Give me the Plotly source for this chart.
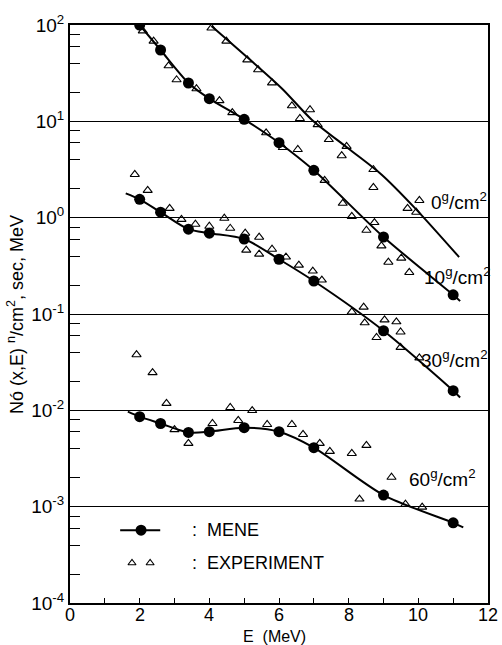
import plotly.graph_objects as go

# ---------------- data ----------------
E_mene = [2, 2.6, 3.4, 4, 5, 6, 7, 9, 11]
mene_10 = [100, 55, 25, 17.2, 10.5, 6.0, 3.1, 0.63, 0.158]
mene_30 = [1.55, 1.14, 0.76, 0.69, 0.60, 0.37, 0.22, 0.067, 0.016]
mene_60 = [0.0086, 0.0073, 0.0059, 0.0060, 0.0066, 0.0060, 0.0041, 0.00132, 0.00068]

# smooth curves (MENE calculation)
line0_E = [4.06, 5.14, 6.09, 6.94, 8.0, 8.94, 9.91, 11.17]
line0_v = [97.7, 44.5, 21.8, 10.4, 5.2, 2.81, 1.25, 0.39]
line10_E = [2, 2.6, 3.4, 4, 5, 6, 7, 9, 11, 11.2]
line10_v = [100, 55, 25, 17.2, 10.5, 6.0, 3.1, 0.63, 0.158, 0.136]
line30_E = [1.6, 2, 2.6, 3.4, 4, 5, 6, 7, 9, 11, 11.2]
line30_v = [1.79, 1.55, 1.14, 0.76, 0.69, 0.60, 0.37, 0.22, 0.067, 0.016, 0.0136]
line60_E = [1.66, 2, 2.6, 3.4, 4, 5, 6, 7, 9, 11, 11.29]
line60_v = [0.0097, 0.0086, 0.0073, 0.0059, 0.0060, 0.0066, 0.0060, 0.0041, 0.00132, 0.00068, 0.00061]

# experiment (triangles)
exp0_E = [4.06, 4.49, 5.09, 5.4, 5.8, 6.37, 6.6, 6.89, 7.11, 7.43, 7.94, 7.8, 8.71, 8.71, 10.03, 9.69, 9.94]
exp0_v = [93, 68, 43.5, 34.3, 25.1, 14.5, 10.7, 13.2, 9.25, 6.47, 5.5, 4.4, 3.16, 2.06, 1.51, 1.25, 1.14]
exp10_E = [2.09, 2.4, 2.83, 3.06, 3.63, 4.29, 4.66, 5.63, 6.11, 6.54, 7.31, 7.83, 8.09, 8.51, 8.74, 8.94, 9.14, 9.51, 9.74]
exp10_v = [87, 68, 37.7, 27, 21.8, 16.4, 12.3, 7.6, 5.35, 5.1, 2.44, 1.41, 1.03, 0.74, 0.89, 0.51, 0.345, 0.38, 0.27]
exp30_E = [1.86, 2.23, 2.86, 3.2, 3.6, 4.0, 4.43, 4.6, 5.03, 5.06, 5.43, 5.43, 5.8, 6.2, 6.57, 6.97, 7.23,
           8.09, 8.43, 8.46, 9.03, 9.37, 8.8, 9.49, 9.49, 10.03]
exp30_v = [2.81, 1.92, 1.25, 0.96, 0.855, 0.815, 0.986, 0.776, 0.69, 0.46, 0.627, 0.418, 0.47, 0.39, 0.322, 0.279, 0.225,
           0.105, 0.118, 0.081, 0.087, 0.083, 0.057, 0.065, 0.045, 0.035]
exp60_E = [1.91, 2.37, 2.77, 4.6, 3.0, 3.4, 4.09, 4.83, 5.23, 5.66, 6.37, 6.69, 7.17, 7.46, 8.09, 8.51, 8.31, 9.23, 9.63, 10.11]
exp60_v = [0.0378, 0.0246, 0.0118, 0.0107, 0.0063, 0.00454, 0.0073, 0.00785, 0.00995, 0.00713, 0.00713, 0.00562,
           0.00454, 0.00375, 0.00357, 0.00433, 0.0012, 0.00202, 0.00106, 0.00099]

x_ticks = [0, 2, 4, 6, 8, 10, 12]
y_exps = [-4, -3, -2, -1, 0, 1, 2]
curve_labels = ["0", "10", "30", "60"]

# ---------------- figure ----------------
FONT = "Liberation Sans"
fig = go.Figure()

for E, v in [(line0_E, line0_v), (line10_E, line10_v), (line30_E, line30_v), (line60_E, line60_v)]:
    fig.add_trace(go.Scatter(x=E, y=v, mode="lines", line=dict(color="black", width=2, shape="spline", smoothing=0.8),
                             hoverinfo="skip"))

for E, v in [(exp0_E, exp0_v), (exp10_E, exp10_v), (exp30_E, exp30_v), (exp60_E, exp60_v)]:
    fig.add_trace(go.Scatter(x=E, y=v, mode="markers",
                             marker=dict(symbol="triangle-up-open", size=8, color="black", line=dict(width=1.1))))

for v in [mene_10, mene_30, mene_60]:
    fig.add_trace(go.Scatter(x=E_mene, y=v, mode="markers", marker=dict(symbol="circle", size=11, color="black")))

# legend samples (positions in axis units)
fig.add_trace(go.Scatter(x=[1.44, 2.07, 2.59], y=[5.7e-4] * 3, mode="lines", line=dict(color="black", width=2)))
fig.add_trace(go.Scatter(x=[2.04], y=[5.7e-4], mode="markers", marker=dict(symbol="circle", size=11, color="black")))
fig.add_trace(go.Scatter(x=[1.78, 2.3], y=[2.6e-4] * 2, mode="markers",
                         marker=dict(symbol="triangle-up-open", size=7, color="black", line=dict(width=1.1))))

minor_y = [m * 10 ** d for d in range(-4, 2) for m in (2, 4, 6, 8)]

fig.update_layout(
    width=502, height=645, margin=dict(l=70, r=14, t=23, b=42),
    paper_bgcolor="white", plot_bgcolor="white", showlegend=False,
    font=dict(family=FONT, color="black", size=18),
    xaxis=dict(range=[0, 12], tickvals=x_ticks, showticklabels=False, ticks="inside", ticklen=5,
               tickwidth=1, tickcolor="black", showgrid=False, zeroline=False, showline=True, linecolor="black",
               linewidth=2, mirror=True, minor=dict(dtick=1, ticks="inside", ticklen=5, tickcolor="black")),
    yaxis=dict(type="log", range=[-4, 2], tickvals=[10 ** e for e in y_exps],
               ticktext=["10<sup>%d</sup>" % e for e in y_exps], ticks="inside", ticklen=10, tickcolor="black",
               showgrid=True, gridcolor="black", gridwidth=1, zeroline=False, showline=True, linecolor="black",
               linewidth=2, mirror=True, tickfont=dict(size=19),
               minor=dict(tickvals=minor_y, ticks="inside", ticklen=10, tickcolor="black", showgrid=False)),
)

# x tick labels placed just below the axis (as in the reference)
for t in x_ticks:
    fig.add_annotation(x=t, y=-0.0207, xref="x", yref="paper", xanchor="center", yanchor="middle",
                       showarrow=False, text=str(t), font=dict(size=18))

label_pos = [(0.930, 0.695), (0.928, 0.566), (0.920, 0.422), (0.892, 0.216)]
for lab, (px, py) in zip(curve_labels, label_pos):
    fig.add_annotation(x=px, y=py, xref="paper", yref="paper", xanchor="center", yanchor="middle", showarrow=False,
                       text=lab + "<sup>g</sup>/cm<sup>2</sup>", font=dict(size=19))

fig.add_annotation(x=3.45, y=-3.243, xref="x", yref="y", xanchor="left", yanchor="middle", showarrow=False,
                   text=":  MENE", font=dict(size=18))
fig.add_annotation(x=3.45, y=-3.584, xref="x", yref="y", xanchor="left", yanchor="middle", showarrow=False,
                   text=":  EXPERIMENT", font=dict(size=18))

fig.add_annotation(x=-0.1316, y=0.5, xref="paper", yref="paper", xanchor="center", yanchor="middle",
                   textangle=-90, showarrow=False,
                   text="Nó (x,E) <sup>n</sup>/cm<sup>2</sup>, sec, MeV", font=dict(size=18))
fig.add_annotation(x=0.49, y=-0.0575, xref="paper", yref="paper", xanchor="center", yanchor="middle",
                   showarrow=False, text="E  (MeV)", font=dict(size=16))

fig.write_html("out.html")
